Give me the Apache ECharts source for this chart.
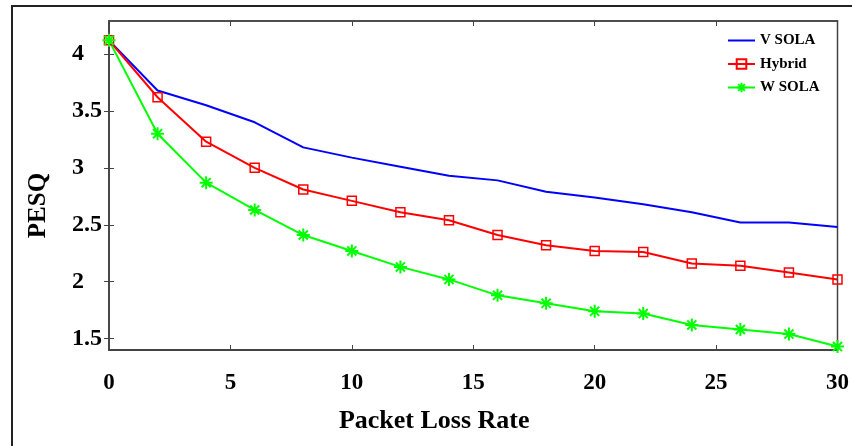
<!DOCTYPE html>
<html>
<head>
<meta charset="utf-8">
<script src="https://cdn.jsdelivr.net/npm/echarts@6/dist/echarts.min.js"></script>
<style>
  html, body { margin: 0; padding: 0; background: #fff; }
  #chart { width: 852px; height: 446px; }
</style>
</head>
<body>
<div id="chart"></div>
<script>
// packet loss rate (x) and PESQ values
const lossRate = [0, 2, 4, 6, 8, 10, 12, 14, 16, 18, 20, 22, 24, 26, 28, 30];
const vSola = [4.12, 3.68, 3.55, 3.40, 3.18, 3.09, 3.01, 2.93, 2.89, 2.79, 2.74, 2.68, 2.61, 2.52, 2.52, 2.48];
const hybrid = [4.12, 3.62, 3.23, 3.00, 2.81, 2.71, 2.61, 2.54, 2.41, 2.32, 2.27, 2.26, 2.16, 2.14, 2.08, 2.02];
const wSola = [4.12, 3.30, 2.87, 2.63, 2.41, 2.27, 2.13, 2.02, 1.88, 1.81, 1.74, 1.72, 1.62, 1.58, 1.54, 1.43];
const yTicks = [1.5, 2, 2.5, 3, 3.5, 4];

const font = "Liberation Serif";
const frame = "#444";
const green = "#00ff00";
const star = "path://M0,5 L10,5 M5,0 L5,10 M1.5,1.5 L8.5,8.5 M8.5,1.5 L1.5,8.5";

function pairs(ys) {
  return lossRate.map((x, i) => [x, ys[i]]);
}

let chart = echarts.init(document.getElementById("chart"));

let option = {
  backgroundColor: "#fff",
  animation: false,
  graphic: [
    {
      type: "rect",
      shape: { x: 12, y: 6, width: 860, height: 470 },
      style: { fill: "none", stroke: "#222", lineWidth: 2 },
      silent: true
    }
  ],
  legend: {
    orient: "vertical",
    left: 722,
    top: 28,
    itemWidth: 27,
    itemHeight: 12,
    itemGap: 8.5,
    textStyle: { fontFamily: font, fontWeight: "bold", fontSize: 15, color: "#000" },
    data: [
      { name: "V SOLA", itemStyle: { opacity: 0 } },
      "Hybrid",
      "W SOLA"
    ]
  },
  grid: {
    left: 109,
    top: 21,
    right: 11,
    bottom: 96,
    show: true,
    borderColor: frame,
    borderWidth: 1.5
  },
  xAxis: [
    {
      type: "value",
      min: 0,
      max: 30,
      interval: 5,
      name: "Packet Loss Rate",
      nameLocation: "middle",
      nameGap: 58,
      nameTextStyle: { fontFamily: font, fontWeight: "bold", fontSize: 26, color: "#000", padding: [0, 78, 0, 0] },
      axisLine: { lineStyle: { color: frame, width: 2 } },
      axisTick: { inside: true, length: 5, lineStyle: { color: frame } },
      axisLabel: { margin: 22, fontFamily: font, fontWeight: "bold", fontSize: 23, color: "#000" },
      splitLine: { show: false }
    },
    {
      type: "value",
      position: "top",
      min: 0,
      max: 30,
      interval: 5,
      axisLine: { lineStyle: { color: frame, width: 1.5 } },
      axisTick: { inside: true, length: 5, lineStyle: { color: frame } },
      axisLabel: { show: false },
      splitLine: { show: false }
    }
  ],
  yAxis: [
    {
      type: "value",
      min: 1.4,
      max: 4.29,
      name: "PESQ",
      nameLocation: "middle",
      nameGap: 58,
      nameTextStyle: { fontFamily: font, fontWeight: "bold", fontSize: 25, color: "#000", padding: [0, 40, 0, 0] },
      axisLine: { lineStyle: { color: frame, width: 1.5 } },
      axisTick: { inside: true, length: 5, customValues: yTicks, lineStyle: { color: frame } },
      axisLabel: { customValues: yTicks, align: "left", margin: 37, fontFamily: font, fontWeight: "bold", fontSize: 24, color: "#000" },
      splitLine: { show: false }
    },
    {
      type: "value",
      position: "right",
      min: 1.4,
      max: 4.29,
      axisLine: { lineStyle: { color: frame, width: 1.5 } },
      axisTick: { inside: true, length: 5, customValues: yTicks, lineStyle: { color: frame } },
      axisLabel: { show: false },
      splitLine: { show: false }
    }
  ],
  series: [
    {
      name: "V SOLA",
      type: "line",
      data: pairs(vSola),
      symbol: "none",
      lineStyle: { color: "#0000ff", width: 2 },
      itemStyle: { color: "#0000ff" }
    },
    {
      name: "Hybrid",
      type: "line",
      data: pairs(hybrid),
      symbol: "rect",
      symbolSize: 9,
      lineStyle: { color: "#ff0000", width: 2 },
      itemStyle: { color: "none", borderColor: "#ff0000", borderWidth: 1.5 }
    },
    {
      name: "W SOLA",
      type: "line",
      data: pairs(wSola),
      symbol: star,
      symbolSize: 13,
      lineStyle: { color: green, width: 2 },
      itemStyle: { color: "none", borderColor: green, borderWidth: 2 }
    }
  ]
};

chart.setOption(option);
</script>
</body>
</html>
